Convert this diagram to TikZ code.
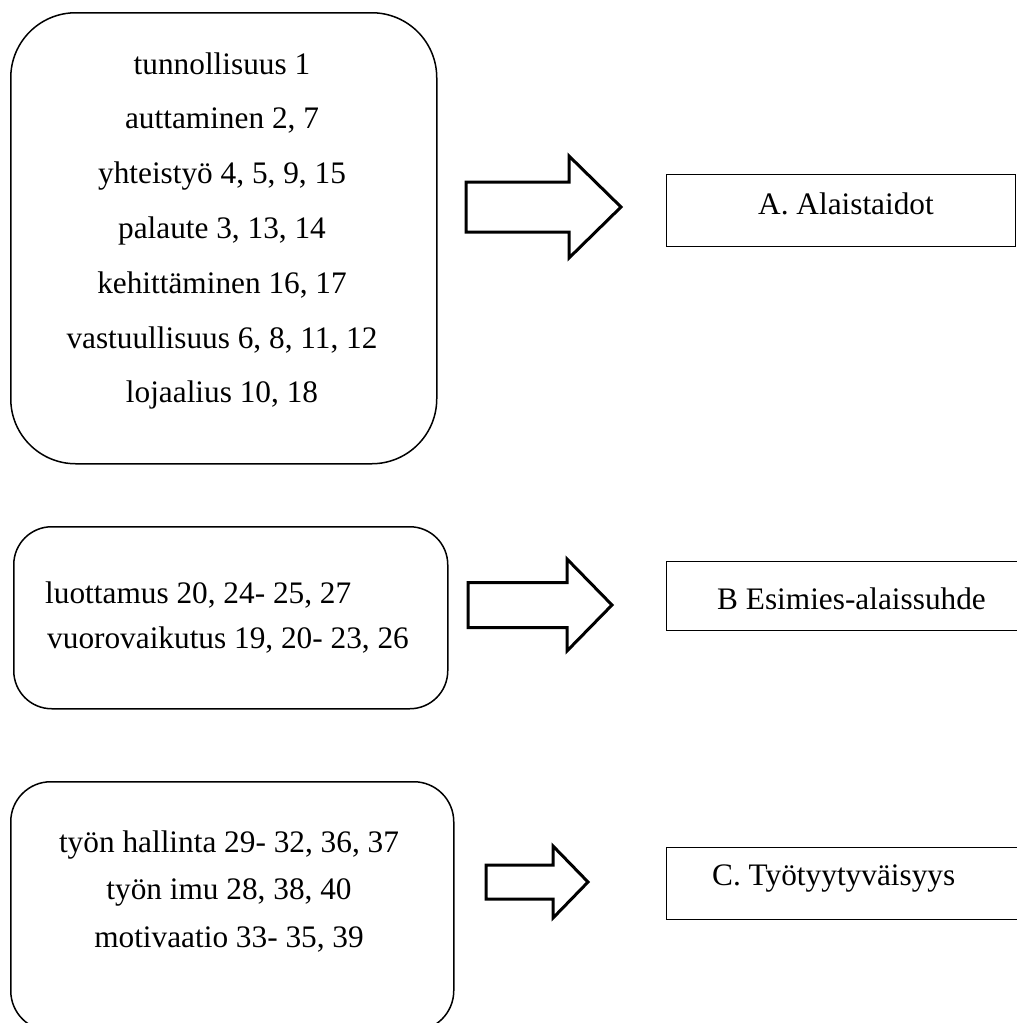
\documentclass[tikz,border=0pt]{standalone}
\usepackage{fontspec}
\setmainfont{Liberation Serif}
\tikzset{
  ryhma/.style  = {draw, line width=1.5pt, inner sep=0pt, anchor=north west},
  tulos/.style  = {draw, line width=1.1pt, inner sep=0pt, anchor=north west},
  teksti/.style = {font=\rmfamily\fontsize{31.3}{37}\selectfont, inner sep=0pt},
  nuoli/.style  = {draw, line width=3pt, line join=miter, fill=white},
}
\begin{document}
\begin{tikzpicture}[x=1pt, y=-1pt]
  \useasboundingbox (0,0) rectangle (1017,1023);

  %% ---------------- the three groups ----------------
  \node[ryhma, rounded corners=65pt, minimum width=426pt, minimum height=451pt]
       (ryhma1) at (10,12) {};
  \node[ryhma, rounded corners=38pt, minimum width=434pt, minimum height=182pt]
       (ryhma2) at (13,526) {};
  \node[ryhma, rounded corners=40pt, minimum width=443pt, minimum height=249pt]
       (ryhma3) at (10,781) {};

  \foreach \n/\rivi in {1/{tunnollisuus 1}, 2/{auttaminen 2, 7},
                        3/{yhteistyö 4, 5, 9, 15}, 4/{palaute 3, 13, 14},
                        5/{kehittäminen 16, 17}, 6/{vastuullisuus 6, 8, 11, 12},
                        7/{lojaalius 10, 18}} {
    \node[teksti, anchor=base] (eka\n) at (222, {19.2+54.8*\n}) {\rivi};
  }

  \node[teksti, anchor=base west] (toka1) at (45,603) {luottamus 20, 24- 25, 27};
  \node[teksti, anchor=base west] (toka2) at (47,648)
       {vuorovaikutus 19, 20- 23, 26};

  \foreach \n/\rivi in {1/{työn hallinta 29- 32, 36, 37}, 2/{työn imu 28, 38, 40},
                        3/{motivaatio 33- 35, 39}} {
    \node[teksti, anchor=base] (kolm\n) at (229, {804.5+47.5*\n}) {\rivi};
  }

  %% ---------------- the block arrows ----------------
  \foreach \x/\y/\len/\varsi/\karki/\kanta in {466/207/155/25/51/52,
                                               468/605/144/22.5/46/45,
                                               486/882/102/17/36/35} {
    \draw[nuoli] (\x,\y-\varsi) -- (\x+\len-\kanta,\y-\varsi)
                 -- (\x+\len-\kanta,\y-\karki) -- (\x+\len,\y)
                 -- (\x+\len-\kanta,\y+\karki) -- (\x+\len-\kanta,\y+\varsi)
                 -- (\x,\y+\varsi) -- cycle;
  }

  %% ---------------- the outcomes ----------------
  \node[tulos, minimum width=349pt, minimum height=72pt] (tulosA) at (666,174) {};
  \node[tulos, minimum width=370pt, minimum height=69pt] (tulosB) at (666,561) {};
  \node[tulos, minimum width=370pt, minimum height=72pt] (tulosC) at (666,847) {};

  \node[teksti, anchor=base west] (nimiA) at (758,214) {A. Alaistaidot};
  \node[teksti, anchor=base west] (nimiB) at (717,609) {B Esimies-alaissuhde};
  \node[teksti, anchor=base west] (nimiC) at (712,885) {C. Työtyytyväisyys};

\end{tikzpicture}
\end{document}
